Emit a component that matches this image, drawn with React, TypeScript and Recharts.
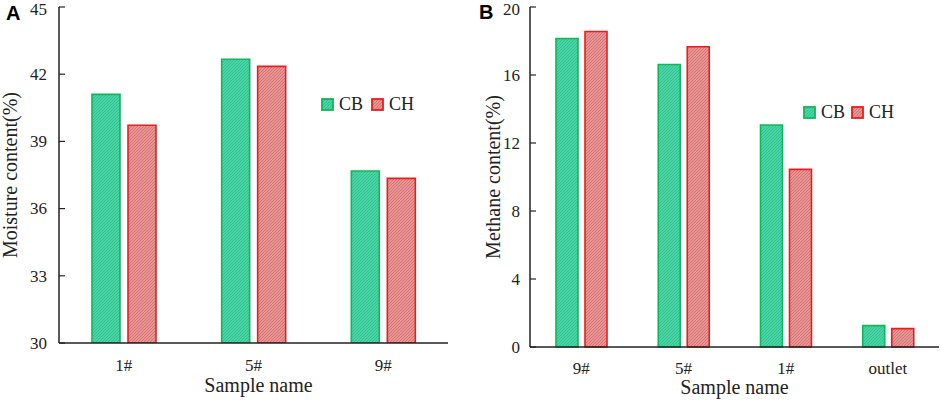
import React from "react";
import { BarChart, Bar, XAxis, YAxis, Legend, Label } from "recharts";

// ---- Data ----
const moistureCategories = ["1#", "5#", "9#"];
const moistureCB = [41.1, 42.67, 37.68];
const moistureCH = [39.72, 42.35, 37.35];
const moistureTicks = [30, 33, 36, 39, 42, 45];

const methaneCategories = ["9#", "5#", "1#", "outlet"];
const methaneCB = [18.15, 16.62, 13.06, 1.26];
const methaneCH = [18.56, 17.66, 10.45, 1.08];
const methaneTicks = [0, 4, 8, 12, 16, 20];

const seriesNames = ["CB", "CH"];

const moistureData = moistureCategories.map((name, i) => ({
  name,
  CB: moistureCB[i],
  CH: moistureCH[i],
}));
const methaneData = methaneCategories.map((name, i) => ({
  name,
  CB: methaneCB[i],
  CH: methaneCH[i],
}));

// ---- Styles ----
const SERIF = "Liberation Serif, Times New Roman, serif";
const SANS = "Liberation Sans, Arial, sans-serif";
const AXIS = "#222";
const STROKES: Record<string, string> = { CB: "#10b65a", CH: "#ec1c1c" };
const FILLS: Record<string, string> = { CB: "url(#patCB)", CH: "url(#patCH)" };

const Patterns = () => (
  <defs>
    <pattern id="patCB" width="3" height="3" patternUnits="userSpaceOnUse">
      <rect width="3" height="3" fill="#4cd3a5" />
      <path d="M0,3 L3,0 M-1,1 L1,-1 M2,4 L4,2" stroke="#27bf8a" strokeWidth="0.8" />
    </pattern>
    <pattern id="patCH" width="3" height="3" patternUnits="userSpaceOnUse">
      <rect width="3" height="3" fill="#e79494" />
      <path d="M0,3 L3,0 M-1,1 L1,-1 M2,4 L4,2" stroke="#d26c6c" strokeWidth="0.8" />
    </pattern>
  </defs>
);

const makeLegend = (gapText: number, gapItem: number) => () => (
  <div
    style={{
      display: "flex",
      alignItems: "center",
      fontFamily: SERIF,
      fontSize: 18,
      color: "#222",
      lineHeight: "18px",
      whiteSpace: "nowrap",
    }}
  >
    {seriesNames.map((n, i) => (
      <div
        key={n}
        style={{ display: "flex", alignItems: "center", marginLeft: i === 0 ? 0 : gapItem }}
      >
        <svg width={13} height={13} style={{ display: "block" }}>
          <rect x={1} y={1} width={11} height={11} fill={FILLS[n]} stroke={STROKES[n]} strokeWidth={1.8} />
        </svg>
        <span style={{ marginLeft: gapText }}>{n}</span>
      </div>
    ))}
  </div>
);

const YTick = (props: any) => {
  const { x, y, payload } = props;
  return (
    <text x={x} y={y} dy="0.34em" textAnchor="end" fontFamily={SERIF} fontSize={17} fill="#222">
      {payload.value}
    </text>
  );
};

const XTick = (props: any) => {
  const { x, y, payload } = props;
  return (
    <text x={x} y={y} dy="0.7em" textAnchor="middle" fontFamily={SERIF} fontSize={17} fill="#222">
      {payload.value}
    </text>
  );
};

const YTitle = (text: string, cx: number) => (props: any) => {
  const vb = props.viewBox || {};
  const x = vb.x + cx;
  const y = vb.y + vb.height / 2;
  return (
    <text
      x={x}
      y={y}
      dy="0.355em"
      textAnchor="middle"
      transform={`rotate(-90, ${x}, ${y})`}
      fontFamily={SERIF}
      fontSize={20}
      fill="#222"
    >
      {text}
    </text>
  );
};

const XTitle = (text: string, fromBottom: number, dx: number) => (props: any) => {
  const vb = props.viewBox || {};
  const x = vb.x + vb.width / 2 + dx;
  const y = vb.y + vb.height - fromBottom;
  return (
    <text x={x} y={y} textAnchor="middle" fontFamily={SERIF} fontSize={20} fill="#222">
      {text}
    </text>
  );
};

export default function App() {
  return (
    <div
      style={{
        position: "absolute",
        left: 0,
        top: 0,
        width: 941,
        height: 401,
        background: "#fff",
        overflow: "hidden",
      }}
    >
      <div style={{ position: "absolute", left: 6, top: 3, fontFamily: SANS, fontWeight: 700, fontSize: 20, lineHeight: "20px" }}>
        A
      </div>
      <div style={{ position: "absolute", left: 479, top: 2, fontFamily: SANS, fontWeight: 700, fontSize: 20, lineHeight: "20px" }}>
        B
      </div>

      {/* Panel A */}
      <div style={{ position: "absolute", left: 0, top: 0 }}>
        <BarChart
          width={470}
          height={401}
          data={moistureData}
          margin={{ top: 7, right: 22, left: 0, bottom: 0 }}
          barSize={28}
          barGap={8}
        >
          <Patterns />
          <XAxis
            dataKey="name"
            height={58}
            tickLine={false}
            tickSize={0}
            tickMargin={16}
            tick={<XTick />}
            axisLine={{ stroke: AXIS, strokeWidth: 1.5 }}
          >
            <Label content={XTitle("Sample name", 9, 5)} />
          </XAxis>
          <XAxis xAxisId="top" dataKey="name" orientation="top" height={0} tick={false} tickLine={false} axisLine={{ stroke: AXIS, strokeWidth: 1.5 }} />
          <YAxis
            width={59}
            domain={[30, 45]}
            ticks={moistureTicks}
            tickSize={-6}
            tickMargin={18}
            tick={<YTick />}
            tickLine={{ stroke: AXIS, strokeWidth: 1.2 }}
            axisLine={{ stroke: AXIS, strokeWidth: 1.5 }}
            allowDataOverflow
          >
            <Label content={YTitle("Moisture content(%)", 10)} />
          </YAxis>
          <YAxis yAxisId="right" orientation="right" width={0} domain={[30, 45]} tick={false} tickLine={false} axisLine={{ stroke: AXIS, strokeWidth: 1.5 }} />
          <Legend
            verticalAlign="middle"
            align="center"
            content={makeLegend(5, 8)}
            wrapperStyle={{ position: "absolute", left: 321, top: 95, width: "auto", height: "auto" }}
          />
          {seriesNames.map((n) => (
            <Bar key={n} dataKey={n} fill={FILLS[n]} stroke={STROKES[n]} strokeWidth={1.6} isAnimationActive={false} />
          ))}
        </BarChart>
      </div>

      {/* Panel B */}
      <div style={{ position: "absolute", left: 470, top: 0 }}>
        <BarChart
          width={471}
          height={401}
          data={methaneData}
          margin={{ top: 7, right: 2, left: 0, bottom: 0 }}
          barSize={22}
          barGap={7}
        >
          <XAxis
            dataKey="name"
            height={54}
            tickLine={false}
            tickSize={0}
            tickMargin={15}
            tick={<XTick />}
            axisLine={{ stroke: AXIS, strokeWidth: 1.5 }}
          >
            <Label content={XTitle("Sample name", 7, 0)} />
          </XAxis>
          <XAxis xAxisId="top" dataKey="name" orientation="top" height={0} tick={false} tickLine={false} axisLine={{ stroke: AXIS, strokeWidth: 1.5 }} />
          <YAxis
            width={60}
            domain={[0, 20]}
            ticks={methaneTicks}
            tickSize={-6}
            tickMargin={16}
            tick={<YTick />}
            tickLine={{ stroke: AXIS, strokeWidth: 1.2 }}
            axisLine={{ stroke: AXIS, strokeWidth: 1.5 }}
          >
            <Label content={YTitle("Methane content(%)", 23)} />
          </YAxis>
          <YAxis yAxisId="right" orientation="right" width={0} domain={[0, 20]} tick={false} tickLine={false} axisLine={{ stroke: AXIS, strokeWidth: 1.5 }} />
          <Legend
            verticalAlign="middle"
            align="center"
            content={makeLegend(5, 6)}
            wrapperStyle={{ position: "absolute", left: 333, top: 103, width: "auto", height: "auto" }}
          />
          {seriesNames.map((n) => (
            <Bar key={n} dataKey={n} fill={FILLS[n]} stroke={STROKES[n]} strokeWidth={1.6} isAnimationActive={false} />
          ))}
        </BarChart>
      </div>
    </div>
  );
}
